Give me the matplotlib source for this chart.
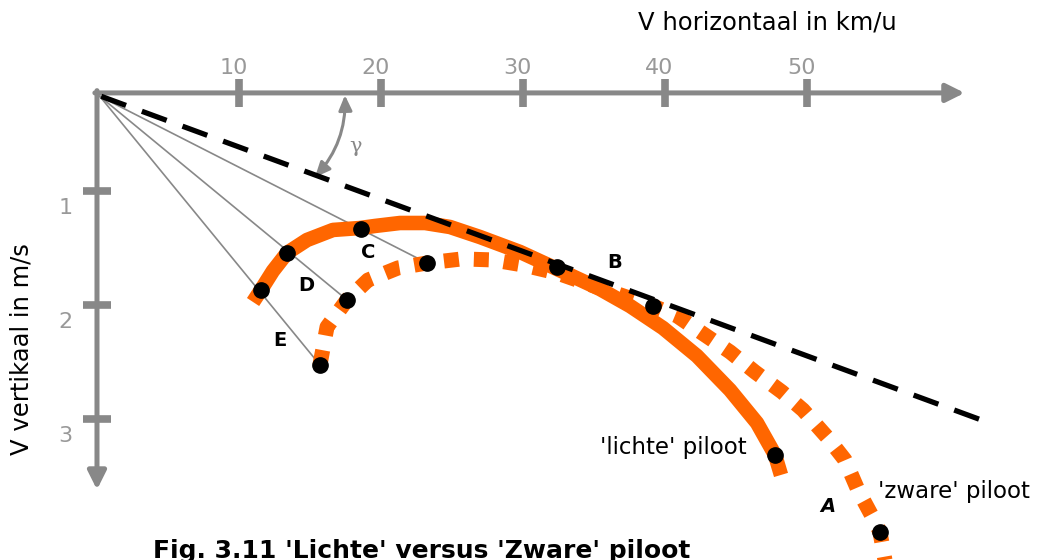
import matplotlib.pyplot as plt

# Snelheidspolaire van een scherm: horizontaal in km/u, vertikaal (daalsnelheid) in m/s
lichte_vh = [10.99, 11.55, 12.39, 13.38, 14.79, 16.62, 18.52, 19.58, 21.34, 23.10,
             24.86, 26.97, 29.79, 32.39, 35.42, 37.54, 39.86, 42.25, 44.58, 46.48,
             47.75, 48.17]
lichte_vv = [1.974, 1.868, 1.702, 1.544, 1.430, 1.342, 1.325, 1.307, 1.281, 1.281,
             1.316, 1.404, 1.535, 1.684, 1.860, 2.009, 2.202, 2.447, 2.746, 3.035,
             3.316, 3.491]

zware_vh = [15.70, 16.20, 17.61, 19.09, 21.20, 23.24, 25.70, 27.89, 30.00, 32.39, 35.42,
            39.15, 40.85, 42.61, 44.58, 46.34, 48.24, 49.72, 51.41, 52.68, 53.59, 54.65,
            55.14, 55.49]
zware_vv = [2.526, 2.193, 1.956, 1.781, 1.675, 1.632, 1.596, 1.605, 1.649, 1.719, 1.851,
            2.009, 2.096, 2.246, 2.412, 2.588, 2.763, 2.921, 3.158, 3.360, 3.623, 3.868,
            3.991, 4.237]

# gemarkeerde punten op beide polaires
lichte_pt_vh = [11.55, 13.38, 18.59, 32.39, 47.75]
lichte_pt_vv = [1.868, 1.544, 1.333, 1.667, 3.316]
zware_pt_vh = [15.70, 17.61, 23.24, 39.15, 55.14]
zware_pt_vv = [2.526, 1.956, 1.632, 2.009, 3.991]

# assen
oorsprong = (0.0, 0.14)
x_ticks = [10, 20, 30, 40, 50]
y_ticks = [1, 2, 3]
x_eind = 61.1
y_eind = 3.62

# raaklijn (beste glijhoek)
glij_vh = [0.3, 62.3]
glij_vv = [0.17, 3.01]

oranje = '#ff6600'
grijs = '#888888'

fig = plt.figure(figsize=(10.42, 5.6), dpi=100)
ax = fig.add_axes([0, 0, 1, 1])
ax.set_xlim(-6.83, 66.55)
ax.set_ylim(4.237, -0.675)
ax.axis('off')

# assen met pijlen
ax.annotate('', xy=(x_eind, oorsprong[1]), xytext=(-0.15, oorsprong[1]),
            arrowprops=dict(arrowstyle='-|>,head_length=1.1,head_width=0.55',
                            lw=3.6, color=grijs, shrinkA=0, shrinkB=0))
ax.annotate('', xy=(oorsprong[0], y_eind), xytext=(oorsprong[0], oorsprong[1] - 0.02),
            arrowprops=dict(arrowstyle='-|>,head_length=1.1,head_width=0.55',
                            lw=3.6, color=grijs, shrinkA=0, shrinkB=0))

for t in x_ticks:
    ax.plot([t, t], [oorsprong[1] - 0.12, oorsprong[1] + 0.12], color=grijs, lw=5.5,
            solid_capstyle='butt')
    ax.text(t - 0.4, -0.08, str(t), color='#999999', fontsize=16,
            ha='center', va='center')
for t in y_ticks:
    ax.plot([-1.0, 1.0], [t, t], color=grijs, lw=5.5, solid_capstyle='butt')
    ax.text(-2.2, t + 0.15, str(t), color='#999999', fontsize=16,
            ha='center', va='center')

ax.text(47.2, -0.48, 'V horizontaal in km/u', fontsize=17.5, ha='center', va='center')
ax.text(-5.3, 2.39, 'V vertikaal in m/s', fontsize=17.5, rotation=90,
        ha='center', va='center')

# stralen vanuit de oorsprong
for vh, vv in zip(zware_pt_vh[:3], zware_pt_vv[:3]):
    ax.plot([0.2, vh], [0.17, vv], color=grijs, lw=1.2, zorder=2)

# raaklijn
ax.plot(glij_vh, glij_vv, color='black', lw=3.8, dashes=(5, 3.2),
        dash_capstyle='butt', zorder=5)

# polaires
ax.plot(zware_vh, zware_vv, color=oranje, lw=10.8, dashes=(1, 1),
        dash_capstyle='butt', zorder=3)
ax.plot(lichte_vh, lichte_vv, color=oranje, lw=10.5, solid_capstyle='butt',
        solid_joinstyle='round', zorder=4)

ax.plot(lichte_pt_vh, lichte_pt_vv, 'o', color='black', ms=11, zorder=6)
ax.plot(zware_pt_vh, zware_pt_vv, 'o', color='black', ms=11, zorder=6)

# hoek gamma
ax.annotate('', xy=(15.35, 0.88), xytext=(17.46, 0.16),
            arrowprops=dict(arrowstyle='<|-|>,head_length=0.9,head_width=0.4',
                            connectionstyle='arc3,rad=-0.2', lw=2.2, color=grijs,
                            shrinkA=0, shrinkB=0))
ax.text(18.2, 0.61, 'γ', color=grijs, fontsize=15, family='DejaVu Serif',
        ha='center', va='center')

# letters bij de punten
for letter, vh, vv in [('C', 19.08, 1.54), ('D', 14.72, 1.83), ('E', 12.89, 2.31),
                       ('B', 36.48, 1.63)]:
    ax.text(vh, vv, letter, fontsize=14, fontweight='bold', ha='center', va='center')
ax.text(51.48, 3.77, 'A', fontsize=14, fontweight='bold', style='italic',
        ha='center', va='center')

ax.text(45.77, 3.25, "'lichte' piloot", fontsize=16.5, ha='right', va='center')
ax.text(55.0, 3.64, "'zware' piloot", fontsize=16.5, ha='left', va='center')

ax.text(3.94, 4.05, "Fig. 3.11 'Lichte' versus 'Zware' piloot", fontsize=18,
        fontweight='bold', ha='left', va='top')

fig.savefig('out.png', dpi=100)
